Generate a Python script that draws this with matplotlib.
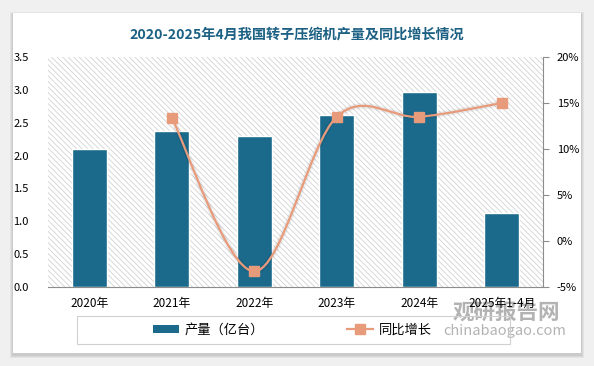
import matplotlib.pyplot as plt
import matplotlib.patches as patches
import matplotlib.patheffects as pe
from matplotlib.path import Path
from matplotlib.lines import Line2D
import numpy as np

plt.rcParams['font.family'] = ['Noto Sans CJK SC', 'DejaVu Sans']
plt.rcParams['hatch.linewidth'] = 0.6

years = ['2020年', '2021年', '2022年', '2023年', '2024年', '2025年1-4月']
output = [2.10, 2.38, 2.30, 2.61, 2.96, 1.12]          # 亿台
growth = [None, 13.4, -3.3, 13.5, 13.5, 15.0]          # %

bar_color = '#1b6a8c'
line_color = '#e89b7b'

W, H = 594, 366
fig = plt.figure(figsize=(W / 100, H / 100), dpi=100)
fig.patch.set_facecolor('#f0f0f0')

# white card with soft shadow
for k, a in enumerate([0.05, 0.05, 0.06]):
    d = 3 - k
    fig.patches.append(patches.Rectangle(((13 - d) / W, 1 - (353 + d + 2) / H),
                                         (568 + 2 * d) / W, (340 + 2 * d) / H,
                                         transform=fig.transFigure, facecolor='black',
                                         alpha=a, edgecolor='none', zorder=-2))
fig.patches.append(patches.Rectangle((13 / W, 1 - 353 / H), 568 / W, 340 / H,
                                     transform=fig.transFigure, facecolor='white',
                                     edgecolor='none', zorder=-1))

ax = fig.add_axes([48 / W, 1 - 287 / H, 495 / W, 230 / H])
ax.set_facecolor('none')
ax.add_patch(patches.Rectangle((0, 0), 1, 1, transform=ax.transAxes, facecolor='white',
                               edgecolor='#d2d2d2', linewidth=0, hatch='\\\\\\\\\\\\', zorder=0))

x = np.arange(len(years))
bars = ax.bar(x, output, width=0.42, color=bar_color, edgecolor='white', linewidth=1.0, zorder=2)
for b in bars:
    b.set_path_effects([pe.SimplePatchShadow(offset=(0, 0), shadow_rgbFace='black', alpha=0.15),
                        pe.Normal()])

ax.set_xlim(-0.5, len(years) - 0.5)
ax.set_ylim(0, 3.5)
ax.set_yticks(np.arange(0, 3.51, 0.5))
ax.set_yticklabels([f'{v:.1f}' for v in np.arange(0, 3.51, 0.5)], fontsize=8)
ax.set_xticks(x)
ax.set_xticklabels(years, fontsize=8.5)
ax.tick_params(axis='y', length=0, pad=14)
ax.tick_params(axis='x', length=0, pad=7)
for s in ['top', 'left', 'right']:
    ax.spines[s].set_visible(False)
ax.spines['bottom'].set_color('#8c8c8c')

ax2 = ax.twinx()
ax2.set_ylim(-5, 20)
ax2.set_yticks(np.arange(-5, 21, 5))
ax2.set_yticklabels([f'{v}%' for v in range(-5, 21, 5)], fontsize=8)
ax2.tick_params(axis='y', length=4, color='#8c8c8c', pad=6)
for s in ['top', 'left', 'bottom']:
    ax2.spines[s].set_visible(False)
ax2.spines['right'].set_color('#8c8c8c')

# smoothed growth line (Catmull-Rom style Bezier through the data points)
gx = [xi for xi, g in zip(x, growth) if g is not None]
gy = [g for g in growth if g is not None]
pts = np.column_stack([gx, gy]).astype(float)
verts = [tuple(pts[0])]
codes = [Path.MOVETO]
n = len(pts)
for i in range(n - 1):
    p0 = pts[max(i - 1, 0)]
    p1 = pts[i]
    p2 = pts[i + 1]
    p3 = pts[min(i + 2, n - 1)]
    c1 = p1 + (p2 - p0) / 6
    c2 = p2 - (p3 - p1) / 6
    verts += [tuple(c1), tuple(c2), tuple(p2)]
    codes += [Path.CURVE4] * 3
curve = patches.PathPatch(Path(verts, codes), facecolor='none', edgecolor=line_color,
                          linewidth=1.6, zorder=3)
curve.set_path_effects([pe.SimpleLineShadow(offset=(0, 0), shadow_color='black', alpha=0.07, linewidth=4),
                        pe.Normal()])
ax2.add_patch(curve)
ax2.plot(gx, gy, linestyle='none', marker='s', markersize=6.5, color=line_color, zorder=4)

fig.text(0.5, 1 - 35 / H, '2020-2025年4月我国转子压缩机产量及同比增长情况', ha='center', va='center',
         fontsize=10.2, fontweight='bold', color='#1c6184')

# legend frame
fig.patches.append(patches.Rectangle((77 / W, 1 - 344 / H), 433 / W, 28 / H,
                                     transform=fig.transFigure, facecolor='none',
                                     edgecolor='#d0d0d0', linewidth=0.8, zorder=1))
handles = [patches.Patch(facecolor=bar_color, edgecolor='none'),
           Line2D([0], [0], color=line_color, lw=1.6, marker='s', markersize=6.5)]
fig.legend(handles, ['产量（亿台）', '同比增长'], loc='center', bbox_to_anchor=(292 / W, 1 - 330 / H),
           ncol=2, frameon=False, fontsize=9.5, columnspacing=6.3, handlelength=2.0,
           handleheight=0.5, handletextpad=0.4)

# watermark, behind the axes text
fig.text(560 / W, 1 - 312 / H, '观研报告网', ha='right', va='center', fontsize=15.5,
         fontweight='bold', color='#9a9a9a', alpha=0.75, zorder=-0.5)
fig.text(566 / W, 1 - 331 / H, 'chinabaogao.com', ha='right', va='center', fontsize=10.5,
         color='#9a9a9a', alpha=0.75, zorder=-0.5)

fig.savefig('out.png', dpi=100)
